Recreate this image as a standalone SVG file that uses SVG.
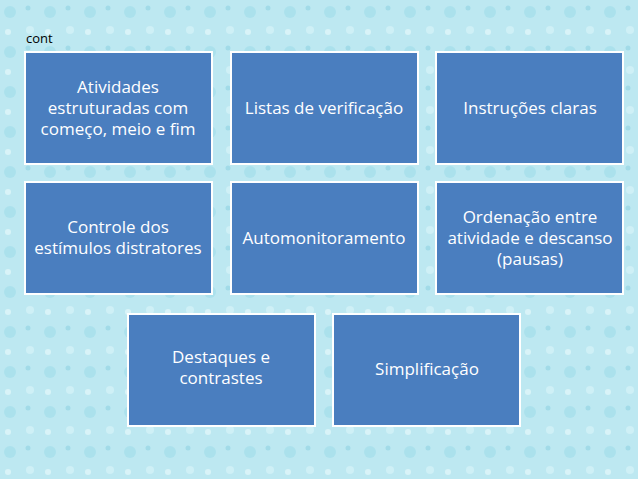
<svg xmlns="http://www.w3.org/2000/svg" width="638" height="479" viewBox="0 0 638 479">
<style>
.b{fill:#4a7ebf;stroke:#ffffff;stroke-width:2}
.t{fill:#ffffff;font-family:"Open Sans","Liberation Sans",sans-serif;font-size:17px;text-anchor:middle}
</style>
<defs>
<pattern id="d" width="40" height="40" patternUnits="userSpaceOnUse">
<circle cx="10" cy="12" r="6" fill="#9fdcea" opacity="0.6"/>
<circle cx="30" cy="30" r="4" fill="#d8f4f8" opacity="0.7"/>
<circle cx="28" cy="8" r="2.5" fill="#8fd2e2" opacity="0.6"/>
<circle cx="8" cy="32" r="3" fill="#e6f8fb" opacity="0.7"/>
</pattern>
</defs>
<rect width="638" height="479" fill="#bde8f1"/>
<rect width="638" height="479" fill="url(#d)"/>
<text x="26" y="43" font-family="'Open Sans','Liberation Sans',sans-serif" font-size="13" fill="#000">cont</text>
<g id="n1"><rect class="b" x="25" y="52" width="187" height="112"/><text class="t" x="118" y="93">Atividades</text><text class="t" x="118" y="114">estruturadas com</text><text class="t" x="118" y="135">começo, meio e fim</text></g>
<g id="n2"><rect class="b" x="231" y="52" width="187" height="112"/><text class="t" x="324" y="114">Listas de verificação</text></g>
<g id="n3"><rect class="b" x="436" y="52" width="187" height="112"/><text class="t" x="530" y="114">Instruções claras</text></g>
<g id="n4"><rect class="b" x="25" y="182" width="187" height="112"/><text class="t" x="118" y="233">Controle dos</text><text class="t" x="118" y="254">estímulos distratores</text></g>
<g id="n5"><rect class="b" x="231" y="182" width="187" height="112"/><text class="t" x="324" y="244">Automonitoramento</text></g>
<g id="n6"><rect class="b" x="436" y="182" width="187" height="112"/><text class="t" x="530" y="223">Ordenação entre</text><text class="t" x="530" y="244">atividade e descanso</text><text class="t" x="530" y="265">(pausas)</text></g>
<g id="n7"><rect class="b" x="128" y="314" width="187" height="112"/><text class="t" x="221" y="363">Destaques e</text><text class="t" x="221" y="384">contrastes</text></g>
<g id="n8"><rect class="b" x="333" y="314" width="187" height="112"/><text class="t" x="427" y="375">Simplificação</text></g>
<g id="connectors"/>
</svg>
